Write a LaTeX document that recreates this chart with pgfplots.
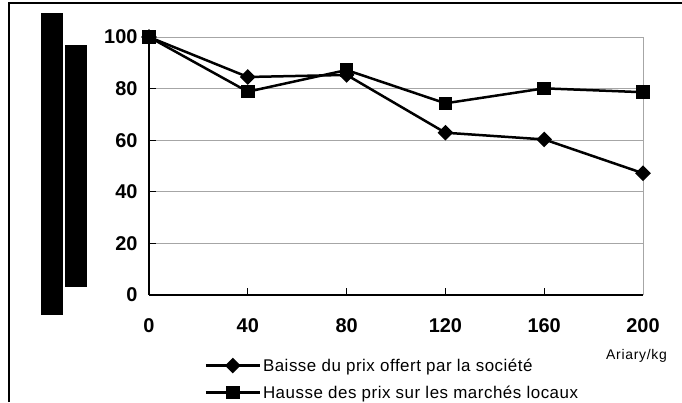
\documentclass[border=0pt]{standalone}
\usepackage{pgfplots}
\pgfplotsset{compat=1.18}
\usepackage{fontspec}
\setmainfont{Liberation Sans}
\newfontfamily\spacedfont[LetterSpace=3]{Liberation Sans}
\newfontfamily\spacedfontb[LetterSpace=5]{Liberation Sans}
\begin{document}
\begin{tikzpicture}[x=1bp,y=1bp]
\useasboundingbox (-149,-107) rectangle (533,295);
\fill[black] (-108,-20) rectangle (-86,282);
\fill[black] (-84,8) rectangle (-62,250);
\draw[line width=1.2bp] (-140,-107) -- (-140,292) -- (533,292);
\begin{axis}[at={(0,0)}, anchor=south west, scale only axis,
  width=494bp, height=258bp,
  xmin=0, xmax=200, ymin=0, ymax=100,
  xtick={0,40,80,120,160,200}, ytick={0,20,40,60,80,100},
  axis x line*=bottom, axis y line*=left,
  axis line style={line width=1.2bp, black, -},
  tick align=inside, major tick length=7bp,
  tick style={line width=1bp, black},
  ymajorgrids, grid style={black!35, line width=1bp},
  ticklabel style={font=\fontsize{20}{24}\selectfont\bfseries},
  /pgf/number format/assume math mode=true,
  xticklabel style={yshift=-20bp},
  yticklabel style={xshift=-8bp},
  clip=false,
  legend cell align=left,
  legend style={at={(0.112,-0.238)}, anchor=north west, draw=none, fill=none,
    font=\spacedfont\fontsize{17}{20}\selectfont, row sep=9bp, inner sep=0pt},
  legend image code/.code={\draw[mark repeat=2,mark phase=2,#1] plot coordinates {(0bp,0bp) (27bp,0bp) (54bp,0bp)};},
]
\draw[black!35, line width=1bp] (rel axis cs:0,1) -- (rel axis cs:1,1) -- (rel axis cs:1,0);
\addplot[black, line width=2.5bp, mark=square*, mark size=4.3bp, mark options={rotate=45, solid}]
  coordinates {(0,100) (40,84.5) (80,85.3) (120,62.9) (160,60.3) (200,47.2)};
\addlegendentry{Baisse du prix offert par la société}
\addplot[black, line width=2.5bp, mark=square*, mark size=5.5bp]
  coordinates {(0,100) (40,78.8) (80,87.2) (120,74.3) (160,80.1) (200,78.6)};
\addlegendentry{Hausse des prix sur les marchés locaux}
\end{axis}
\node[font=\spacedfontb\fontsize{14}{16}\selectfont] at (487.5,-61) {Ariary/kg};
\end{tikzpicture}
\end{document}
